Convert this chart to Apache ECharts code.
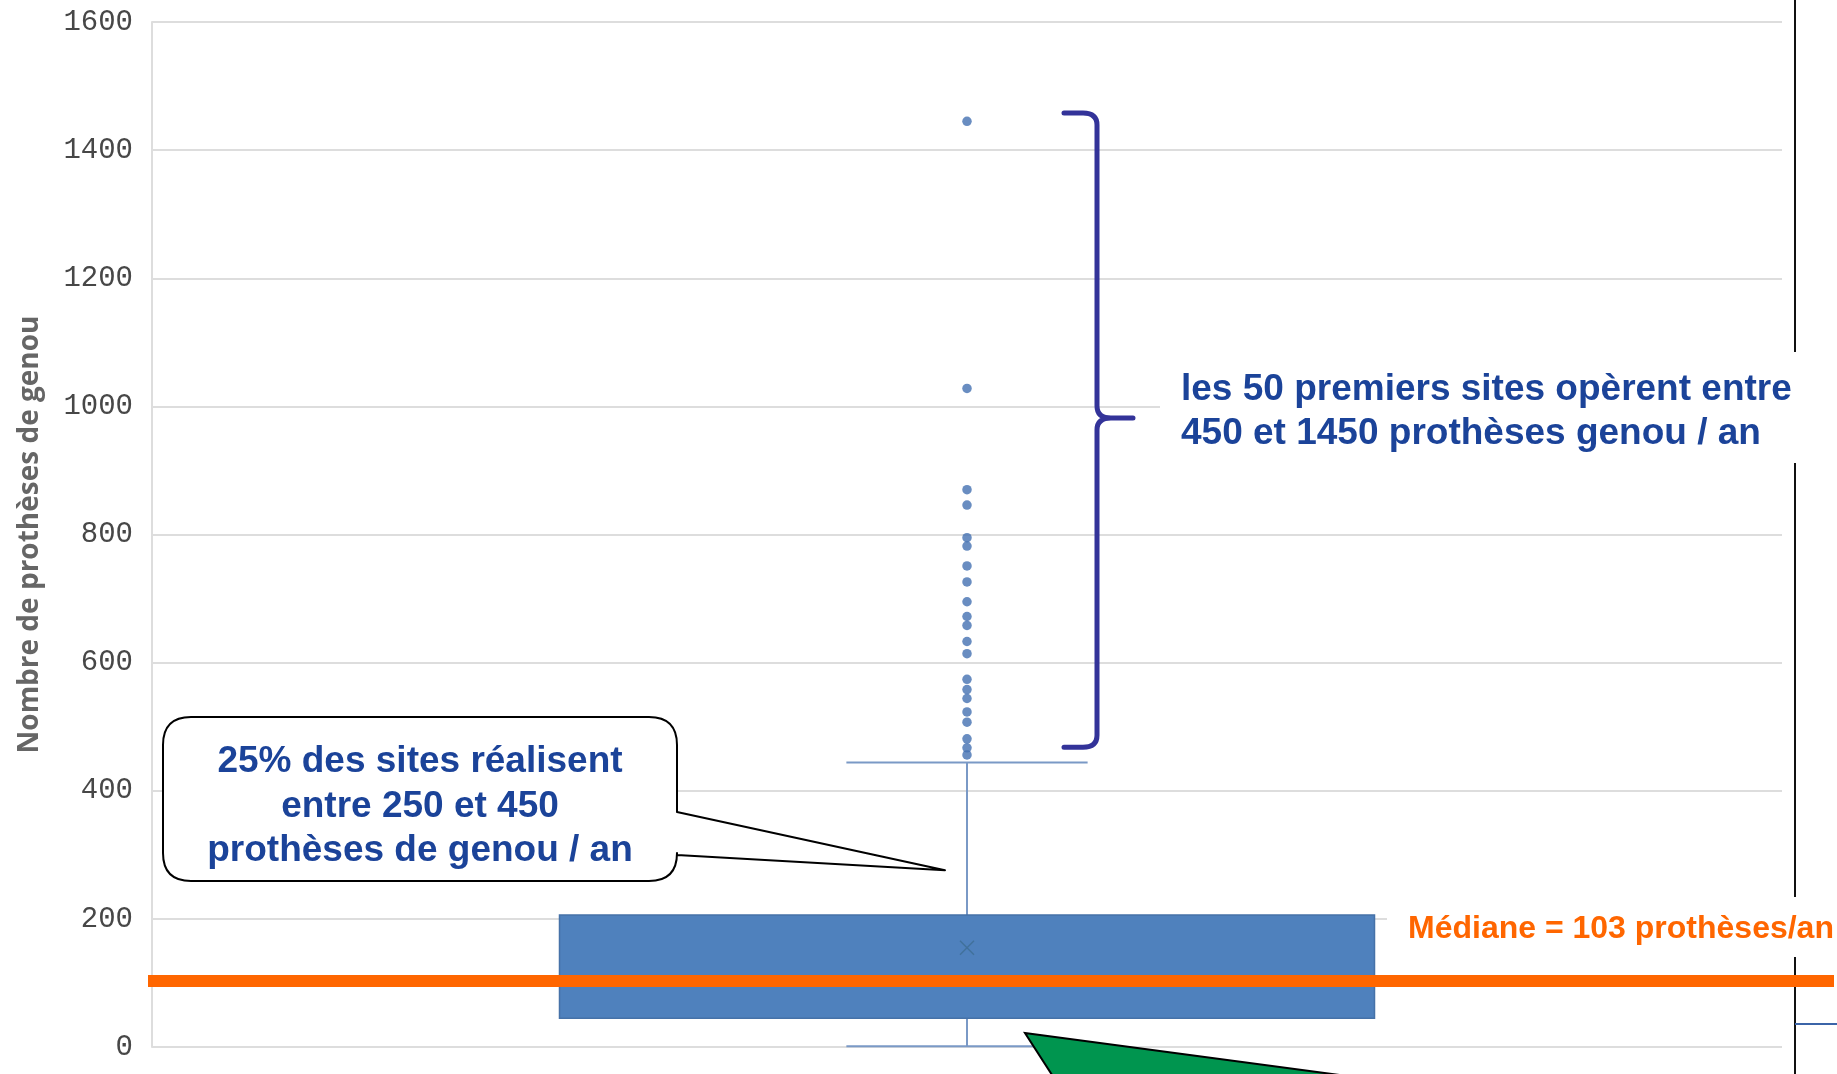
<!DOCTYPE html>
<html>
<head>
<meta charset="utf-8">
<script src="https://cdn.jsdelivr.net/npm/echarts@6/dist/echarts.min.js"></script>
<style>
  html, body { margin: 0; padding: 0; background: #ffffff; }
  #chart { width: 1837px; height: 1074px; }
</style>
</head>
<body>
<div id="chart"></div>
<script>
// ---- data ----
const categories = ['Sites'];
const yTicks = [0, 200, 400, 600, 800, 1000, 1200, 1400, 1600];
// lower whisker, Q1, median, Q3, upper whisker, mean
const boxStats = [1, 45, 103, 206, 444, 155];
// sites above the upper whisker (prothèses de genou / an)
const outliers = [1445, 1028, 870, 846, 795, 782, 751, 726, 695, 672, 658, 633,
                  614, 574, 558, 544, 523, 507, 481, 467, 456];
const medianValue = 103;
const calloutValue = 276;                // point on the whisker the callout refers to
const braceRange = [468, 1458, 982];     // bracket bottom, top and its middle point

const axisTitle = 'Nombre de prothèses de genou';
const medianText = 'Médiane = 103 prothèses/an';
const braceText = ['les 50 premiers sites opèrent entre', '450 et 1450 prothèses genou / an'];
const calloutText = ['25% des sites réalisent', 'entre 250 et 450', 'prothèses de genou / an'];

// ---- styles ----
const BLUE_TEXT = '#1B4399';
const ORANGE = '#FF6600';
const BOX_FILL = '#4F81BD';
const BOX_EDGE = '#41719C';
const WHISKER = '#7A99C6';
const DOT = '#4471B2';
const BRACE = '#333399';
const LABEL_FONT = '"Liberation Sans", Arial, sans-serif';

const chart = echarts.init(document.getElementById('chart'), null, { renderer: 'canvas' });

function renderBox(params, api) {
  const x = api.value(0);
  const lo = api.coord([x, api.value(1)]);
  const q1 = api.coord([x, api.value(2)]);
  const med = api.coord([x, api.value(3)]);
  const q3 = api.coord([x, api.value(4)]);
  const hi = api.coord([x, api.value(5)]);
  const mean = api.coord([x, api.value(6)]);
  const band = api.size([1, 0])[0];
  const half = band * 0.25;
  const cap = band * 0.074;
  const cx = lo[0];
  const wStyle = { stroke: WHISKER, lineWidth: 2 };
  const m = 7;
  return {
    type: 'group',
    children: [
      { type: 'line', shape: { x1: cx, y1: q3[1], x2: cx, y2: hi[1] }, style: wStyle },
      { type: 'line', shape: { x1: cx, y1: q1[1], x2: cx, y2: lo[1] }, style: wStyle },
      { type: 'line', shape: { x1: cx - cap, y1: hi[1], x2: cx + cap, y2: hi[1] }, style: wStyle },
      { type: 'line', shape: { x1: cx - cap, y1: lo[1], x2: cx + cap, y2: lo[1] }, style: wStyle },
      { type: 'rect', shape: { x: cx - half, y: q3[1], width: half * 2, height: q1[1] - q3[1] },
        style: { fill: BOX_FILL, stroke: '#4672A8', lineWidth: 1.5 } },
      { type: 'line', shape: { x1: cx - half, y1: med[1], x2: cx + half, y2: med[1] },
        style: { stroke: BOX_EDGE, lineWidth: 2.5 } },
      { type: 'line', shape: { x1: cx - m, y1: mean[1] - m, x2: cx + m, y2: mean[1] + m },
        style: { stroke: BOX_EDGE, lineWidth: 1.5 } },
      { type: 'line', shape: { x1: cx - m, y1: mean[1] + m, x2: cx + m, y2: mean[1] - m },
        style: { stroke: BOX_EDGE, lineWidth: 1.5 } }
    ]
  };
}

// bracket over the top sites and the callout bubble pointing at the whisker
function renderNotes(params, api) {
  const braceBot = api.coord([0, braceRange[0]])[1];
  const braceTop = api.coord([0, braceRange[1]])[1];
  const braceMid = api.coord([0, braceRange[2]])[1];
  const tipPt = api.coord([0, calloutValue]);
  const bx0 = 1064, bx1 = 1097, bx2 = 1133;
  const bracePath =
    `M${bx0} ${braceTop} L${bx1 - 14} ${braceTop} Q${bx1} ${braceTop} ${bx1} ${braceTop + 12} ` +
    `L${bx1} ${braceMid - 12} Q${bx1} ${braceMid} ${bx1 + 14} ${braceMid} L${bx2} ${braceMid} ` +
    `M${bx1 + 14} ${braceMid} Q${bx1} ${braceMid} ${bx1} ${braceMid + 12} ` +
    `L${bx1} ${braceBot - 12} Q${bx1} ${braceBot} ${bx1 - 14} ${braceBot} L${bx0} ${braceBot}`;

  const tip = [tipPt[0] - 22, tipPt[1]];
  const cb = { x0: 163, y0: 717, x1: 677, y1: 881, r: 28, w0: 812, w1: 855 };
  const calloutPath =
    `M${cb.x0 + cb.r} ${cb.y0} L${cb.x1 - cb.r} ${cb.y0} Q${cb.x1} ${cb.y0} ${cb.x1} ${cb.y0 + cb.r} ` +
    `L${cb.x1} ${cb.w0} L${tip[0]} ${tip[1]} L${cb.x1} ${cb.w1} ` +
    `L${cb.x1} ${cb.y1 - cb.r} Q${cb.x1} ${cb.y1} ${cb.x1 - cb.r} ${cb.y1} ` +
    `L${cb.x0 + cb.r} ${cb.y1} Q${cb.x0} ${cb.y1} ${cb.x0} ${cb.y1 - cb.r} ` +
    `L${cb.x0} ${cb.y0 + cb.r} Q${cb.x0} ${cb.y0} ${cb.x0 + cb.r} ${cb.y0} Z`;

  return {
    type: 'group',
    children: [
      { type: 'path', shape: { pathData: bracePath },
        style: { stroke: BRACE, lineWidth: 5, fill: null, lineJoin: 'round', lineCap: 'round' } },
      { type: 'path', shape: { pathData: calloutPath },
        style: { fill: '#ffffff', stroke: '#000000', lineWidth: 2, lineJoin: 'round' } }
    ]
  };
}

const option = {
  animation: false,
  backgroundColor: '#ffffff',
  grid: { left: 152, right: 55, top: 22, bottom: 27 },
  xAxis: {
    type: 'category',
    data: categories,
    axisLine: { show: false },
    axisTick: { show: false },
    axisLabel: { show: false },
    splitLine: { show: false }
  },
  yAxis: {
    type: 'value',
    min: yTicks[0],
    max: yTicks[yTicks.length - 1],
    interval: yTicks[1] - yTicks[0],
    name: axisTitle,
    nameLocation: 'middle',
    nameGap: 108,
    nameTextStyle: { fontFamily: '"Open Sans", sans-serif', fontWeight: 'bold', fontSize: 28, color: '#666666' },
    axisLine: { show: true, lineStyle: { color: '#DDDDDD', width: 2 } },
    axisTick: { show: false },
    axisLabel: {
      margin: 19,
      formatter: v => String(v),
      fontFamily: '"Liberation Mono", "Courier New", monospace',
      fontWeight: 'normal',
      fontSize: 29,
      color: '#474747'
    },
    splitLine: { show: true, lineStyle: { color: '#DDDDDD', width: 2 } }
  },
  series: [
    {
      type: 'custom',
      name: 'box',
      renderItem: renderBox,
      encode: { x: 0, y: [1, 2, 3, 4, 5, 6] },
      data: [[0].concat(boxStats)],
      z: 2
    },
    {
      type: 'scatter',
      name: 'outliers',
      symbol: 'circle',
      symbolSize: 9.5,
      itemStyle: { color: DOT },
      data: outliers.map(v => [0, v]),
      z: 3
    },
    {
      type: 'custom',
      name: 'notes',
      renderItem: renderNotes,
      data: [[0, medianValue]],
      silent: true,
      z: 15
    }
  ]
};
chart.setOption(option);

// ---- labels and overlays placed from the axis scales ----
const medY = chart.convertToPixel({ xAxisIndex: 0, yAxisIndex: 0 }, [0, medianValue])[1];

const textStyle = (size, color, align) => ({
  fontFamily: LABEL_FONT, fontWeight: 'bold', fontSize: size, fill: color,
  align: align, verticalAlign: 'middle'
});

chart.setOption({
  graphic: [
    // frame line of the neighbouring panel
    { type: 'line', z: 5, shape: { x1: 1795, y1: 0, x2: 1795, y2: 1074 }, style: { stroke: '#111111', lineWidth: 2 } },
    { type: 'line', z: 5, shape: { x1: 1795, y1: 1024, x2: 1837, y2: 1024 }, style: { stroke: '#3B64A8', lineWidth: 2 } },

    // median line and its label
    { type: 'line', z: 20, shape: { x1: 148, y1: medY, x2: 1834, y2: medY }, style: { stroke: ORANGE, lineWidth: 12 } },
    { type: 'rect', z: 10, shape: { x: 1387, y: 897, width: 450, height: 60 }, style: { fill: '#ffffff' } },
    { type: 'text', z: 21, x: 1408, y: 929, style: Object.assign({ text: medianText }, textStyle(32, ORANGE, 'left')) },

    // label of the bracket
    { type: 'rect', z: 10, shape: { x: 1160, y: 352, width: 642, height: 111 }, style: { fill: '#ffffff' } },
    { type: 'text', z: 21, x: 1181, y: 390, style: Object.assign({ text: braceText[0] }, textStyle(37, BLUE_TEXT, 'left')) },
    { type: 'text', z: 21, x: 1181, y: 434, style: Object.assign({ text: braceText[1] }, textStyle(37, BLUE_TEXT, 'left')) },

    // callout text
    { type: 'text', z: 21, x: 420, y: 762, style: Object.assign({ text: calloutText[0] }, textStyle(37, BLUE_TEXT, 'center')) },
    { type: 'text', z: 21, x: 420, y: 807, style: Object.assign({ text: calloutText[1] }, textStyle(37, BLUE_TEXT, 'center')) },
    { type: 'text', z: 21, x: 420, y: 851, style: Object.assign({ text: calloutText[2] }, textStyle(37, BLUE_TEXT, 'center')) },

    // green pointer entering from below
    { type: 'polygon', z: 15, shape: { points: [[1025, 1033], [1362, 1078], [1054, 1078]] },
      style: { fill: '#00954F', stroke: '#000000', lineWidth: 2 } }
  ]
});
</script>
</body>
</html>
